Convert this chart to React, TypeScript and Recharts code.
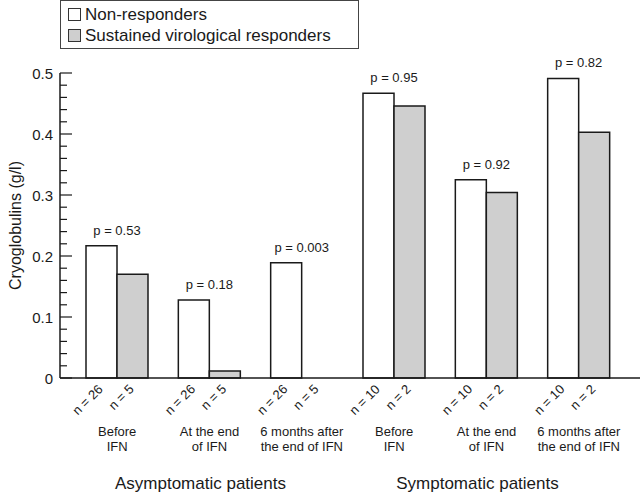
import { BarChart, Bar, XAxis, YAxis, LabelList } from 'recharts'

const categories = [
  'Before\nIFN',
  'At the end\nof IFN',
  '6 months after\nthe end of IFN',
  'Before\nIFN',
  'At the end\nof IFN',
  '6 months after\nthe end of IFN',
]
const nonResponders = [0.217, 0.128, 0.189, 0.467, 0.325, 0.491]
const svResponders = [0.17, 0.0115, 0, 0.446, 0.304, 0.403]
const nNon = [26, 26, 26, 10, 10, 10]
const nSvr = [5, 5, 5, 2, 2, 2]
const pValues = ['0.53', '0.18', '0.003', '0.95', '0.92', '0.82']
const sections = ['Asymptomatic patients', 'Symptomatic patients']
const majorTicks = [0, 0.1, 0.2, 0.3, 0.4, 0.5]

const yTicks = Array.from({ length: 26 }, (_, i) => Math.round(i * 2) / 100)

const data = categories.map((c, i) => ({
  name: c,
  non: nonResponders[i],
  svr: svResponders[i],
  p: 'p = ' + pValues[i],
}))

const FONT = '"Liberation Sans", Arial, Helvetica, sans-serif'
const INK = '#1a1a1a'
const GREY = '#cfcfcf'
const BAR = 31

const YTick = (props: any) => {
  const { x, y, payload } = props
  const v = payload.value
  const major = majorTicks.some((m) => Math.abs(m - v) < 1e-6)
  return (
    <g>
      <line x1={x} x2={x + (major ? 12 : 7)} y1={y} y2={y} stroke={INK} strokeWidth={1.2} />
      {major && (
        <text x={x - 7} y={y} textAnchor="end" dominantBaseline="central" fontSize={15} fill={INK}>
          {v === 0 ? '0' : String(v)}
        </text>
      )}
    </g>
  )
}

const XTick = (props: any) => {
  const { x, y, payload, index } = props
  const lines = String(payload.value).split('\n')
  const half = BAR / 2
  return (
    <g fill={INK}>
      <text
        x={x - half + 2}
        y={y + 12}
        textAnchor="end"
        fontSize={13}
        transform={`rotate(-45 ${x - half + 2} ${y + 12})`}
      >
        {'n = ' + nNon[index]}
      </text>
      <text
        x={x + half + 2}
        y={y + 12}
        textAnchor="end"
        fontSize={13}
        transform={`rotate(-45 ${x + half + 2} ${y + 12})`}
      >
        {'n = ' + nSvr[index]}
      </text>
      {lines.map((l, k) => (
        <text key={k} x={x} y={y + 58 + k * 15} textAnchor="middle" fontSize={13}>
          {l}
        </text>
      ))}
      {(index === 1 || index === 4) && (
        <text x={x - 9} y={y + 111} textAnchor="middle" fontSize={17}>
          {sections[index === 1 ? 0 : 1]}
        </text>
      )}
    </g>
  )
}

const PLabel = (props: any) => {
  const { x, y, width, value } = props
  return (
    <text x={x + width} y={y - 11} textAnchor="middle" fontSize={13} fill={INK}>
      {value}
    </text>
  )
}

const YTitle = (props: any) => {
  const { viewBox } = props
  const cx = viewBox.x + 15
  const cy = viewBox.y + viewBox.height / 2
  return (
    <text
      x={cx}
      y={cy}
      textAnchor="middle"
      dominantBaseline="central"
      fontSize={16}
      fill={INK}
      transform={`rotate(-90 ${cx} ${cy})`}
    >
      Cryoglobulins (g/l)
    </text>
  )
}

function Legend() {
  const items = [
    { label: 'Non-responders', color: '#ffffff' },
    { label: 'Sustained virological responders', color: GREY },
  ]
  return (
    <div
      style={{
        position: 'absolute',
        left: 60,
        top: 0,
        width: 299,
        height: 49,
        border: '1px solid #444',
        fontFamily: FONT,
        fontSize: 17,
        color: INK,
        boxSizing: 'border-box',
        paddingLeft: 7,
        paddingTop: 3,
      }}
    >
      {items.map((it) => (
        <div key={it.label} style={{ display: 'flex', alignItems: 'center', height: 21 }}>
          <span
            style={{
              display: 'inline-block',
              width: 11,
              height: 11,
              background: it.color,
              border: '1px solid #333',
              marginRight: 4,
            }}
          />
          {it.label}
        </div>
      ))}
    </div>
  )
}

export default function App() {
  return (
    <div style={{ position: 'absolute', left: 0, top: 0, width: 640, height: 493, background: '#fff' }}>
      <BarChart
        width={640}
        height={493}
        data={data}
        margin={{ top: 73, right: 0, bottom: 0, left: 0 }}
        barGap={0}
        style={{ fontFamily: FONT }}
      >
        <XAxis
          dataKey="name"
          height={115}
          padding={{ left: 11, right: 15 }}
          axisLine={{ stroke: INK, strokeWidth: 1.5 }}
          tickLine={false}
          tickSize={0}
          tickMargin={0}
          interval={0}
          tick={XTick}
        />
        <YAxis
          width={60}
          domain={[0, 0.5]}
          ticks={yTicks}
          interval={0}
          axisLine={{ stroke: INK, strokeWidth: 1.5 }}
          tickLine={false}
          tickSize={0}
          tickMargin={0}
          tick={YTick}
          label={<YTitle />}
        />
        <Bar dataKey="non" fill="#ffffff" stroke={INK} strokeWidth={1.5} barSize={BAR} isAnimationActive={false}>
          <LabelList dataKey="p" content={PLabel} />
        </Bar>
        <Bar dataKey="svr" fill={GREY} stroke={INK} strokeWidth={1.5} barSize={BAR} isAnimationActive={false} />
      </BarChart>
      <Legend />
    </div>
  )
}
